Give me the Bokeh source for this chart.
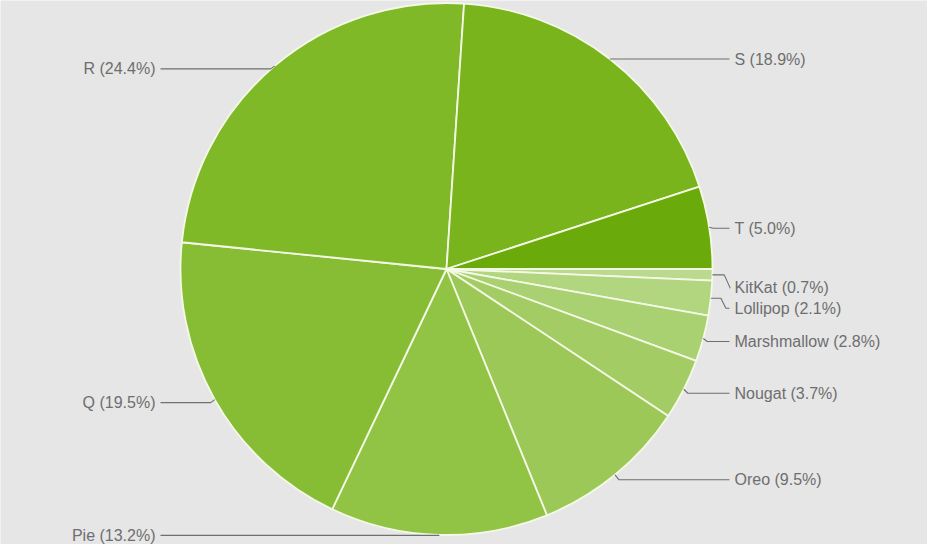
import math
from bokeh.plotting import figure
from bokeh.models import Range1d, ColumnDataSource
from bokeh.core.properties import value
from bokeh.embed import file_html
from bokeh.resources import INLINE

# ---- data ----
names = ["KitKat", "Lollipop", "Marshmallow", "Nougat", "Oreo", "Pie", "Q", "R", "S", "T"]
shares = [0.7, 2.1, 2.8, 3.7, 9.5, 13.2, 19.5, 24.4, 18.9, 5.0]
colors = ["#bbda8f", "#b2d580", "#aad171", "#a3cd64", "#9bc856",
          "#91c344", "#87bd35", "#80b928", "#79b41d", "#6aab0b"]

# ---- layout (style) ----
W, H = 927, 544
CX, CY = 454, 560 - 276.5      # page coords -> data (y up)
R = 266
label_shift = [13, 10, 3, 4, 5, 0.5, 3, 3, 0, 1]   # px downward shift of label from slice edge
RIGHT_END, LEFT_END = 737, 168

p = figure(width=W, height=H, output_backend="svg", toolbar_location=None,
           x_range=Range1d(8, 8 + W), y_range=Range1d(8, 8 + H),
           min_border=0, background_fill_color="#e6e6e6", border_fill_color="#e6e6e6")
p.axis.visible = False
p.grid.visible = False
p.outline_line_color = None

total = sum(shares)
starts, ends, mids = [], [], []
cum = 0.0
for s in shares:
    a0 = cum / total * 2 * math.pi
    cum += s
    a1 = cum / total * 2 * math.pi
    # clockwise from east: math angles negative
    starts.append(-a1)
    ends.append(-a0)
    mids.append(-(a0 + a1) / 2)

src = ColumnDataSource(dict(x=[CX] * len(shares), y=[CY] * len(shares),
                            start=starts, end=ends, color=colors))
p.wedge(x="x", y="y", radius=R, start_angle="start", end_angle="end",
        fill_color="color", line_color="#f4f9e6", line_width=1.8, source=src)

tx, ty, ttext, talign = [], [], [], []
for name, s, m, dy in zip(names, shares, mids, label_shift):
    ex = CX + R * math.cos(m)
    ey = CY + R * math.sin(m)
    ly = ey - dy
    right = math.cos(m) > 0.05
    left = math.cos(m) < -0.05
    if right:
        if dy > 8:
            xs = [ex, ex + 4 + dy * 0.6, ex + 6 + dy * 0.9, RIGHT_END]
            ys = [ey, ey, ly, ly]
        else:
            xs = [ex, ex + 4, RIGHT_END]
            ys = [ey, ly, ly]
        tx.append(RIGHT_END + 5); talign.append("left")
    else:
        if left:
            xs = [ex, ex - 4, LEFT_END]
            ys = [ey, ly, ly]
        else:
            xs = [ex, ex, LEFT_END]
            ys = [ey, ly, ly]
        tx.append(LEFT_END - 5); talign.append("right")
    p.line(xs, ys, line_color="#6f6f6f", line_width=1.1)
    ty.append(ly)
    ttext.append(f"{name} ({s:.1f}%)")

lsrc = ColumnDataSource(dict(x=tx, y=ty, text=ttext, align=talign))
p.text(x="x", y="y", text="text", text_align="align", text_baseline="middle",
       text_font=value("Liberation Sans"), text_font_size="16px",
       text_color="#6e6e6e", source=lsrc)

open("out.html", "w").write(file_html(p, INLINE))
